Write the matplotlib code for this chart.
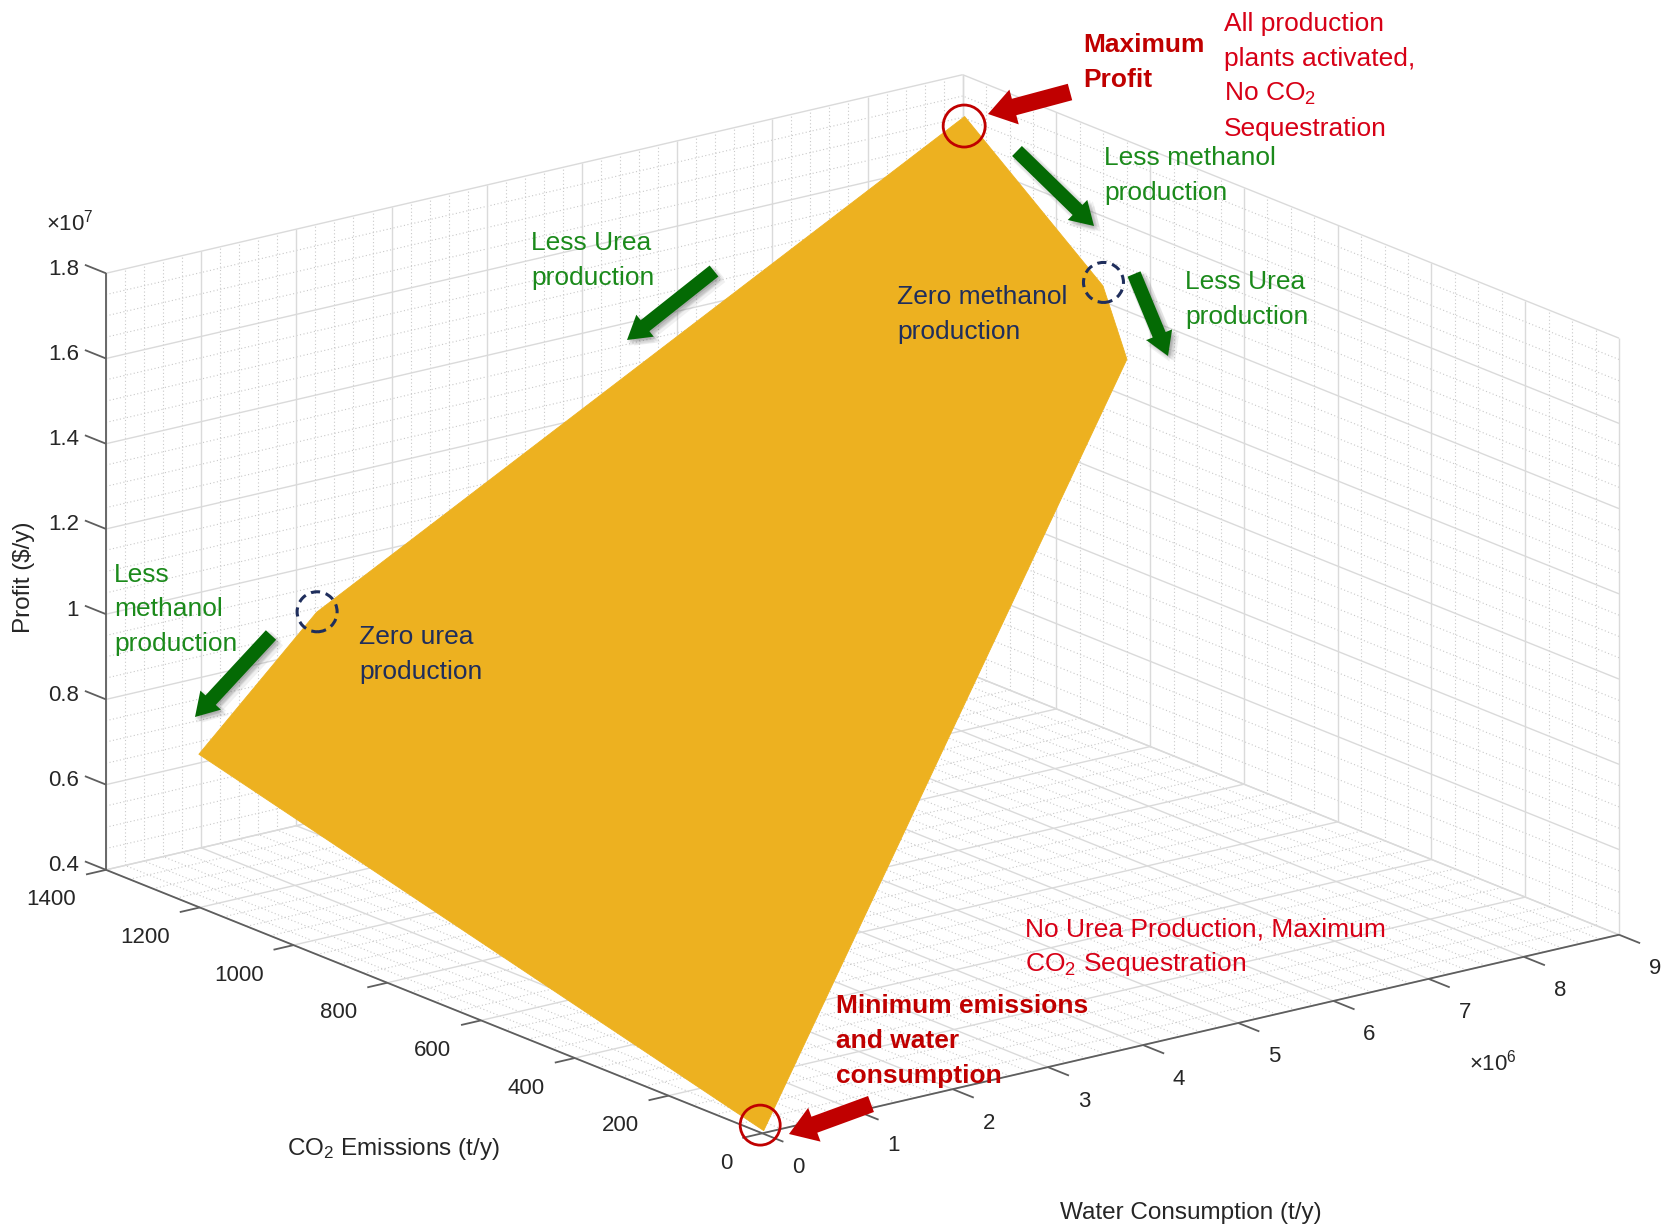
import numpy as np
import matplotlib
matplotlib.use("Agg")
import matplotlib.pyplot as plt
import matplotlib.patheffects as pe
from matplotlib.patches import FancyArrow, Circle
from matplotlib.transforms import IdentityTransform
from mpl_toolkits.mplot3d.art3d import Poly3DCollection, Line3DCollection

plt.rcParams["font.family"] = ["Liberation Sans", "DejaVu Sans"]
plt.rcParams["mathtext.fontset"] = "custom"
plt.rcParams["mathtext.rm"] = "Liberation Sans"
plt.rcParams["mathtext.it"] = "Liberation Sans:italic"
plt.rcParams["mathtext.bf"] = "Liberation Sans:bold"
if "axes3d.automargin" in plt.rcParams:
    plt.rcParams["axes3d.automargin"] = False

# ---------------------------------------------------------------------------
# Corner points of the attainable operating region
# (maximum profit first, then going clockwise)
co2_emissions = [1340, 980, 868, 5, 1274, 1165]                      # t/y
water_consumption = [8.72e6, 8.40e6, 8.10e6, 0.034e6, 0.35e6, 1.05e6]  # t/y
profit = [1.744e7, 1.522e7, 1.415e7, 0.4035e7, 0.710e7, 1.055e7]     # $/y

co2_ticks = [0, 200, 400, 600, 800, 1000, 1200, 1400]
co2_tick_labels = ["0", "200", "400", "600", "800", "1000", "1200", "1400"]
water_ticks = [0, 1e6, 2e6, 3e6, 4e6, 5e6, 6e6, 7e6, 8e6, 9e6]
water_tick_labels = ["0", "1", "2", "3", "4", "5", "6", "7", "8", "9"]
profit_ticks = [0.4e7, 0.6e7, 0.8e7, 1.0e7, 1.2e7, 1.4e7, 1.6e7, 1.8e7]
profit_tick_labels = ["0.4", "0.6", "0.8", "1", "1.2", "1.4", "1.6", "1.8"]

water_minor = [i * 0.2e6 for i in range(46) if i % 5]
co2_minor = [i * 50 for i in range(29) if i % 4]
profit_minor = [0.4e7 + i * 0.05e7 for i in range(29) if i % 4]
# ---------------------------------------------------------------------------

W_PX, H_PX = 1665, 1230
FACE = "#EDB120"
AXIS_GRAY = "#5E5E5E"
LABEL_GRAY = "#262626"
RED_DARK = "#C00000"
RED = "#D70016"
GREEN_TXT = "#1B8A1B"
GREEN_ARROW = "#046A04"
NAVY = "#1F2E5C"

fig = plt.figure(figsize=(W_PX / 100, H_PX / 100), dpi=100)
fig.patch.set_facecolor("white")
ax = fig.add_axes([0, 0, 1, 1], projection="3d", proj_type="ortho")
ax.computed_zorder = False
XL = (water_ticks[0], water_ticks[-1])
YL = (co2_ticks[0], co2_ticks[-1])
ZL = (profit_ticks[0], profit_ticks[-1])
ax.set_xlim(*XL)
ax.set_ylim(*YL)
ax.set_zlim(*ZL)
ax.set_box_aspect((1013.4, 1021.7, 590.0))
ax.view_init(elev=17.76, azim=-127.23)
ax.set_axis_off()


def to_display(xs, ys, zs):
    xs, ys, zs = (np.atleast_1d(np.asarray(v, dtype=float)) for v in (xs, ys, zs))
    M = ax.get_proj()
    p = M @ np.vstack([xs, ys, zs, np.ones_like(xs)])
    p = p[:2] / p[3]
    return ax.transData.transform(p.T)


# Place the axes so the plot box spans the frame (pixels from top-left)
frame_left, frame_right, frame_top, frame_bottom = 106, 1619, 72, 1136
for _ in range(2):
    fig.canvas.draw()
    gx, gy, gz = np.meshgrid(XL, YL, ZL)
    pts = to_display(gx.ravel(), gy.ravel(), gz.ravel())
    cur_w = pts[:, 0].max() - pts[:, 0].min()
    k = (frame_right - frame_left) / cur_w
    cur_c = np.array([(pts[:, 0].max() + pts[:, 0].min()) / 2,
                      (pts[:, 1].max() + pts[:, 1].min()) / 2])
    tgt_c = np.array([(frame_left + frame_right) / 2,
                      H_PX - (frame_top + frame_bottom) / 2])
    pos = ax.get_position()
    x0, y0 = pos.x0 * W_PX, pos.y0 * H_PX
    x1, y1 = pos.x1 * W_PX, pos.y1 * H_PX
    nx0, ny0 = k * (np.array([x0, y0]) - cur_c) + tgt_c
    nx1, ny1 = k * (np.array([x1, y1]) - cur_c) + tgt_c
    ax.set_position([nx0 / W_PX, ny0 / H_PX, (nx1 - nx0) / W_PX, (ny1 - ny0) / H_PX])
fig.canvas.draw()


# ---- grid on the three back planes ----
def plane_segments(xv, yv, zv):
    segs = []
    for x in xv:
        segs.append([(x, YL[0], ZL[0]), (x, YL[1], ZL[0])])
        segs.append([(x, YL[1], ZL[0]), (x, YL[1], ZL[1])])
    for y in yv:
        segs.append([(XL[0], y, ZL[0]), (XL[1], y, ZL[0])])
        segs.append([(XL[1], y, ZL[0]), (XL[1], y, ZL[1])])
    for z in zv:
        segs.append([(XL[0], YL[1], z), (XL[1], YL[1], z)])
        segs.append([(XL[1], YL[0], z), (XL[1], YL[1], z)])
    return segs


minor_grid = Line3DCollection(plane_segments(water_minor, co2_minor, profit_minor),
                              colors="#C9C9C9", linewidths=0.8,
                              linestyles=[(0, (1.0, 2.2))], zorder=1)
major_grid = Line3DCollection(plane_segments(water_ticks, co2_ticks, profit_ticks),
                              colors="#DADADA", linewidths=1.0, zorder=2)
ax.add_collection3d(minor_grid)
ax.add_collection3d(major_grid)

# ---- feasible region ----
region = Poly3DCollection([list(zip(water_consumption, co2_emissions, profit))],
                          facecolors=FACE, edgecolors=FACE, linewidths=0.6, zorder=4)
ax.add_collection3d(region)

# ---- axis lines and tick marks ----
axis_segs = [
    [(XL[0], YL[1], ZL[0]), (XL[0], YL[1], ZL[1])],
    [(XL[0], YL[0], ZL[0]), (XL[0], YL[1], ZL[0])],
    [(XL[0], YL[0], ZL[0]), (XL[1], YL[0], ZL[0])],
]
for z in profit_ticks:
    axis_segs.append([(XL[0], YL[1], z), (XL[0], YL[1] + 45, z)])
for c in co2_ticks:
    axis_segs.append([(XL[0], c, ZL[0]), (XL[0] - 0.21e6, c, ZL[0])])
for w in water_ticks:
    axis_segs.append([(w, YL[0], ZL[0]), (w, YL[0] - 45, ZL[0])])
ax.add_collection3d(Line3DCollection(axis_segs, colors=AXIS_GRAY, linewidths=1.3, zorder=5))


def put(xd, yd, s, **kw):
    """Text at display pixel position (y measured upward)."""
    fig.text(xd / W_PX, yd / H_PX, s, **kw)


# ---- tick labels ----
tick_kw = dict(fontsize=16, color=LABEL_GRAY)
for z, s in zip(profit_ticks, profit_tick_labels):
    px, py = to_display(XL[0], YL[1], z)[0]
    put(px - 27, py + 4, s, ha="right", va="center", **tick_kw)
for c, s in zip(co2_ticks, co2_tick_labels):
    px, py = to_display(XL[0], c, ZL[0])[0]
    put(px - 30, py - 30, s, ha="right", va="center", **tick_kw)
for w, s in zip(water_ticks, water_tick_labels):
    px, py = to_display(w, YL[0], ZL[0])[0]
    put(px + 36, py - 34, s, ha="center", va="center", **tick_kw)

put(46, H_PX - 231, r"$\times10^{7}$", ha="left", va="baseline", **tick_kw)
put(1469, H_PX - 1071, r"$\times10^{6}$", ha="left", va="baseline", **tick_kw)

# ---- axis titles ----
lab_kw = dict(fontsize=17.5, color=LABEL_GRAY)
put(24, H_PX - 577, r"Profit (\$/y)", rotation=90, ha="center", va="center", **lab_kw)
put(393, H_PX - 1149, r"CO$_2$ Emissions (t/y)", ha="center", va="center", **lab_kw)
put(1191, H_PX - 1213, "Water Consumption (t/y)", ha="center", va="center", **lab_kw)


# ---- corner markers ----
def ring(i, dx, dy, color, dashed=False, r=21):
    px, py = to_display(water_consumption[i], co2_emissions[i], profit[i])[0]
    c = Circle((px + dx, py + dy), r, fill=False, ec=color,
               lw=2.2 if dashed else 2.0,
               ls=(0, (3.0, 1.9)) if dashed else "-",
               transform=IdentityTransform(), zorder=10)
    fig.add_artist(c)


ring(0, 0, -10, RED_DARK)
ring(3, -3, 5, RED_DARK, r=20)
ring(1, 1, 3, NAVY, dashed=True, r=20)
ring(5, 1, 0, NAVY, dashed=True, r=20)


# ---- block arrows (pixel coordinates from the top-left) ----
def block_arrow(tail, tip, color, width, head_width, head_length, shadow):
    x0, y0 = tail[0], H_PX - tail[1]
    x1, y1 = tip[0], H_PX - tip[1]
    arr = FancyArrow(x0, y0, x1 - x0, y1 - y0, width=width, head_width=head_width,
                     head_length=head_length, length_includes_head=True,
                     fc=color, ec="none", lw=0, transform=IdentityTransform(), zorder=11)
    if shadow:
        effects = [pe.SimplePatchShadow(offset=o, shadow_rgbFace="0.45", alpha=0.10)
                   for o in [(1, -1), (3, -3), (4, -1), (1, -4), (5, -4), (2, -2), (0, -2), (2, 0)]]
        arr.set_path_effects(effects + [pe.Normal()])
    fig.add_artist(arr)


block_arrow((1070, 92), (988, 114), RED_DARK, 17, 36, 27, False)
block_arrow((871, 1104), (789, 1134), RED_DARK, 17, 36, 27, False)
block_arrow((1017, 151), (1094, 226), GREEN_ARROW, 14, 28, 23, True)
block_arrow((1134, 274), (1168, 356), GREEN_ARROW, 14, 28, 23, True)
block_arrow((714, 271), (627, 340), GREEN_ARROW, 14, 28, 23, True)
block_arrow((271, 635), (195, 717), GREEN_ARROW, 14, 28, 23, True)


# ---- annotation text ----
def text_block(x, y, lines, step=35, **kw):
    for i, s in enumerate(lines):
        fig.text(x / W_PX, 1 - (y + i * step) / H_PX, s, ha="left", va="baseline",
                 fontsize=19, **kw)


text_block(1083, 52, ["Maximum", "Profit"], color=RED_DARK, fontweight="bold")
text_block(1224, 31, ["All production", "plants activated,", r"No CO$_2$", "Sequestration"],
           color=RED)
text_block(1104, 165, ["Less methanol", "production"], color=GREEN_TXT)
text_block(1185, 289, ["Less Urea", "production"], color=GREEN_TXT)
text_block(897, 304, ["Zero methanol", "production"], color=NAVY)
text_block(531, 250, ["Less Urea", "production"], color=GREEN_TXT)
text_block(114, 582, ["Less", "methanol", "production"], color=GREEN_TXT, step=34.5)
text_block(359, 644, ["Zero urea", "production"], color=NAVY)
text_block(1025, 936, ["No Urea Production, Maximum", r"CO$_2$ Sequestration"], color=RED)
text_block(836, 1013, ["Minimum emissions", "and water", "consumption"],
           color=RED_DARK, fontweight="bold", step=35)

fig.savefig("out.png", dpi=100, facecolor="white")
